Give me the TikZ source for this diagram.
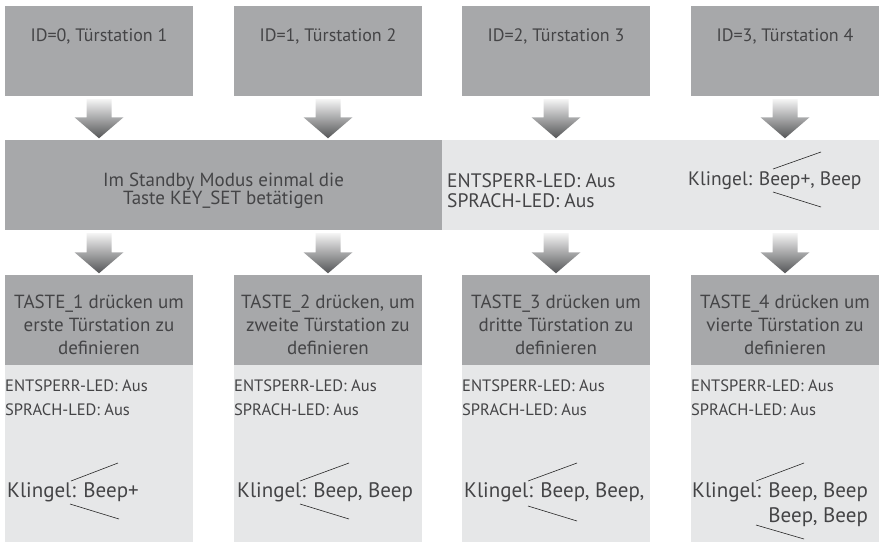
\documentclass[tikz,border=0pt]{standalone}
\usepackage{fontspec}
\setmainfont{PT Sans}
\usetikzlibrary{calc}
\definecolor{boxdark}{HTML}{A7A8AA}
\definecolor{boxlight}{HTML}{E6E7E8}
\definecolor{textgray}{HTML}{444446}
\definecolor{arrowtop}{HTML}{F4F4F4}
\definecolor{arrowbottom}{HTML}{545557}
\tikzset{dark box/.style={rectangle,fill=boxdark,minimum width=188pt,minimum height=90pt,inner sep=0pt},
  light box/.style={rectangle,fill=boxlight,minimum width=188pt,minimum height=177pt,inner sep=0pt},
  id text/.style={inner sep=0pt,font=\fontsize{18}{22}\selectfont},
  mid text/.style={inner sep=0pt,align=center,font=\fontsize{19}{18}\selectfont},
  led big/.style={inner sep=0pt,align=left,anchor=west,font=\fontsize{19.5}{20}\selectfont},
  bell mid/.style={inner sep=0pt,anchor=west,font=\fontsize{19.5}{22}\selectfont},
  key text/.style={inner sep=0pt,align=center,font=\fontsize{19}{23}\selectfont},
  led small/.style={inner sep=0pt,align=left,anchor=west,font=\fontsize{16.5}{24}\selectfont},
  bell text/.style={inner sep=0pt,anchor=west,font=\fontsize{21}{25}\selectfont},
  bell line/.style={draw=black!85,line width=0.6pt},
}
\newcommand{\fatarrow}[2]{%
  \shade[top color=arrowtop,bottom color=arrowbottom]
    let \p1=#1, \p2=#2 in
    (\x1-12.5pt,\y1-3pt) -- (\x1+12.5pt,\y1-3pt) -- (\x1+12.5pt,\y2+22.5pt)
    -- (\x1+24.5pt,\y2+22.5pt) -- (\x1,\y2+1.5pt) -- (\x1-24.5pt,\y2+22.5pt)
    -- (\x1-12.5pt,\y2+22.5pt) -- cycle;}

\begin{document}
\begin{tikzpicture}[x=1pt,y=-1pt,text=textgray]
\useasboundingbox (0,0) rectangle (886,542);

%% top row
\node[dark box] (t1) at (99,51) {};
\node[dark box] (t2) at (328,51) {};
\node[dark box] (t3) at (556,51) {};
\node[dark box] (t4) at (785,51) {};
\node[id text] (t1txt) at ([yshift=-31pt]t1.north) {ID=0, Türstation 1};
\node[id text] (t2txt) at ([yshift=-31pt]t2.north) {ID=1, Türstation 2};
\node[id text] (t3txt) at ([yshift=-31pt]t3.north) {ID=2, Türstation 3};
\node[id text] (t4txt) at ([yshift=-31pt]t4.north) {ID=3, Türstation 4};

%% middle row
\node[dark box,minimum width=437pt] (m) at (223.5,185) {};
\node[light box,minimum width=437pt,minimum height=90pt] (ml) at (660.5,185) {};
\node[mid text] (mtxt) at (223.5,191) {Im Standby Modus einmal die\\Taste KEY\_SET betätigen};
\node[led big] (mled) at (447,191) {ENTSPERR-LED: Aus\\SPRACH-LED: Aus};
\node[bell mid] (mbell) at (688,181) {Klingel: Beep+, Beep};
\draw[bell line] (773,169) -- (821,152);
\draw[bell line] (773,192) -- (821,207);

%% bottom row
\node[dark box] (b1) at (99,320) {};
\node[dark box] (b2) at (328,320) {};
\node[dark box] (b3) at (556,320) {};
\node[dark box] (b4) at (785,320) {};
\node[key text] (b1txt) at (99,325) {TASTE\_1 drücken um\\erste Türstation zu\\definieren};
\node[key text] (b2txt) at (328,325) {TASTE\_2 drücken, um\\zweite Türstation zu\\definieren};
\node[key text] (b3txt) at (556,325) {TASTE\_3 drücken um\\dritte Türstation zu\\definieren};
\node[key text] (b4txt) at (785,325) {TASTE\_4 drücken um\\vierte Türstation zu\\definieren};

\node[light box] (c1) at (99,453.5) {};
\node[light box] (c2) at (328,453.5) {};
\node[light box] (c3) at (556,453.5) {};
\node[light box] (c4) at (785,453.5) {};
\node[led small] (c1led) at (5,398) {ENTSPERR-LED: Aus\\SPRACH-LED: Aus};
\node[led small] (c2led) at (234,398) {ENTSPERR-LED: Aus\\SPRACH-LED: Aus};
\node[led small] (c3led) at (462,398) {ENTSPERR-LED: Aus\\SPRACH-LED: Aus};
\node[led small] (c4led) at (691,398) {ENTSPERR-LED: Aus\\SPRACH-LED: Aus};
\node[bell text] (c1bell) at (7,492) {Klingel: Beep+};
\node[bell text] (c2bell) at (237,492) {Klingel: Beep, Beep};
\node[bell text] (c3bell) at (464,492) {Klingel: Beep, Beep,};
\node[bell text,align=right] (c4bell) at (692,504.5) {Klingel: Beep, Beep\\Beep, Beep};
\draw[bell line] (71,481) -- (118,463);
\draw[bell line] (70,504) -- (119,519);
\draw[bell line] (300,481) -- (349,463);
\draw[bell line] (300,504) -- (349,519);
\draw[bell line] (528,481) -- (577,463);
\draw[bell line] (528,506) -- (577,521);
\draw[bell line] (756,481) -- (804,463);
\draw[bell line] (756,525) -- (804,539);

%% arrows
\fatarrow{(t1.south)}{(t1.south |- m.north)}
\fatarrow{(t2.south)}{(t2.south |- m.north)}
\fatarrow{(t3.south)}{(t3.south |- ml.north)}
\fatarrow{(t4.south)}{(t4.south |- ml.north)}
\fatarrow{(b1.north |- m.south)}{(b1.north)}
\fatarrow{(b2.north |- m.south)}{(b2.north)}
\fatarrow{(b3.north |- ml.south)}{(b3.north)}
\fatarrow{(b4.north |- ml.south)}{(b4.north)}
\end{tikzpicture}
\end{document}
